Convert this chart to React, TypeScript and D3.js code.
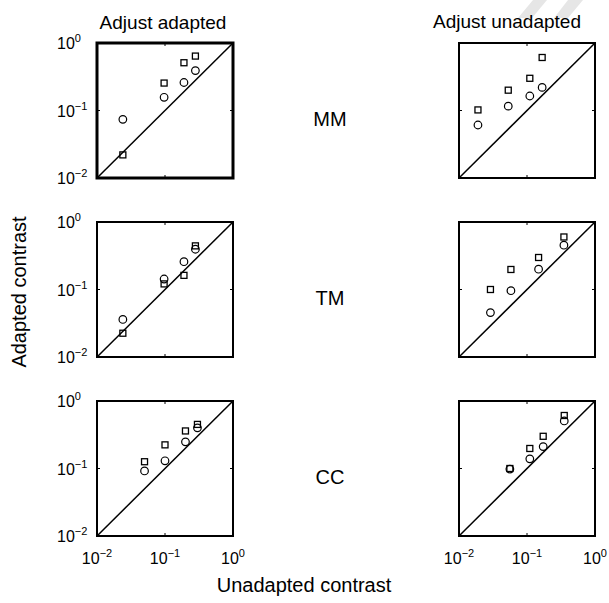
import React from 'react';
import * as d3 from 'd3';

// unadapted contrast (x) with adapted contrast for squares and circles (y)
const rowNames = ['MM', 'TM', 'CC'];
const colTitles = ['Adjust adapted', 'Adjust unadapted'];

const mmAdaptedX = [0.024, 0.097, 0.19, 0.28];
const mmAdaptedSq = [0.022, 0.255, 0.51, 0.64];
const mmAdaptedCi = [0.074, 0.157, 0.26, 0.39];

const tmAdaptedX = [0.024, 0.097, 0.19, 0.28];
const tmAdaptedSq = [0.0225, 0.121, 0.162, 0.443];
const tmAdaptedCi = [0.036, 0.143, 0.258, 0.395];

const ccAdaptedX = [0.05, 0.1, 0.2, 0.3];
const ccAdaptedSq = [0.126, 0.224, 0.36, 0.45];
const ccAdaptedCi = [0.092, 0.13, 0.248, 0.4];

const mmUnadaptedX = [0.019, 0.053, 0.11, 0.167];
const mmUnadaptedSq = [0.102, 0.2, 0.3, 0.61];
const mmUnadaptedCi = [0.061, 0.116, 0.164, 0.22];

const tmUnadaptedX = [0.029, 0.058, 0.148, 0.349];
const tmUnadaptedSq = [0.1, 0.198, 0.298, 0.6];
const tmUnadaptedCi = [0.0455, 0.096, 0.2, 0.453];

const ccUnadaptedX = [0.056, 0.11, 0.173, 0.353];
const ccUnadaptedSq = [0.1, 0.198, 0.3, 0.61];
const ccUnadaptedCi = [0.098, 0.139, 0.211, 0.506];

const tickValues = [0.01, 0.1, 1];
const tickExps = ['\u22122', '\u22121', '0'];

const panels = [
  [
    { x: mmAdaptedX, sq: mmAdaptedSq, ci: mmAdaptedCi },
    { x: mmUnadaptedX, sq: mmUnadaptedSq, ci: mmUnadaptedCi },
  ],
  [
    { x: tmAdaptedX, sq: tmAdaptedSq, ci: tmAdaptedCi },
    { x: tmUnadaptedX, sq: tmUnadaptedSq, ci: tmUnadaptedCi },
  ],
  [
    { x: ccAdaptedX, sq: ccAdaptedSq, ci: ccAdaptedCi },
    { x: ccUnadaptedX, sq: ccUnadaptedSq, ci: ccUnadaptedCi },
  ],
];

const W = 609, H = 603;
const PW = 136, PH = 135;
const colLeft = [97, 459];
const rowTop = [43, 222, 401];
const font = 'Liberation Sans, Arial, Helvetica, sans-serif';

const TickLabel = ({ x, y, exp, anchor }: any) => (
  <text x={x} y={y} fontSize={16} textAnchor={anchor} fontFamily={font}>
    10<tspan dy={-7} fontSize={11}>{exp}</tspan>
  </text>
);

const Panel = ({ left, top, d, row, col }: any) => {
  const xs = d3.scaleLog().domain([0.01, 1]).range([0, PW]);
  const ys = d3.scaleLog().domain([0.01, 1]).range([PH, 0]);
  const bold = row === 0 && col === 0;
  return (
    <g transform={`translate(${left},${top})`}>
      {tickValues.map((t, i) => (
        <g key={i} stroke="#000" strokeWidth={1}>
          <line x1={xs(t)} x2={xs(t)} y1={PH} y2={PH - 3} />
          <line x1={xs(t)} x2={xs(t)} y1={0} y2={3} />
          <line x1={0} x2={3} y1={ys(t)} y2={ys(t)} />
          <line x1={PW} x2={PW - 3} y1={ys(t)} y2={ys(t)} />
        </g>
      ))}
      <line x1={xs(0.01)} y1={ys(0.01)} x2={xs(1)} y2={ys(1)} stroke="#000" strokeWidth={1.5} />
      {d.x.map((v: number, i: number) => (
        <rect key={'s' + i} x={xs(v) - 3} y={ys(d.sq[i]) - 3} width={6} height={6}
          fill="none" stroke="#000" strokeWidth={1.3} />
      ))}
      {d.x.map((v: number, i: number) => (
        <circle key={'c' + i} cx={xs(v)} cy={ys(d.ci[i])} r={3.8}
          fill="none" stroke="#000" strokeWidth={1.2} />
      ))}
      <rect x={0} y={0} width={PW} height={PH} fill="none" stroke="#000" strokeWidth={bold ? 3 : 2} />
      {col === 0 && tickValues.map((t, i) => (
        <TickLabel key={'y' + i} x={-40} y={ys(t) + 6} exp={tickExps[i]} anchor="start" />
      ))}
      {row === 2 && tickValues.map((t, i) => (
        <TickLabel key={'x' + i} x={xs(t)} y={PH + 28} exp={tickExps[i]} anchor="middle" />
      ))}
    </g>
  );
};

export default function App() {
  return (
    <svg width={W} height={H} style={{ position: 'absolute', left: 0, top: 0, background: '#fff' }}>
      <rect width={W} height={H} fill="#fff" />
      <polygon points="533,0 547,0 532,18 518,18" fill="#e6e6e6" />
      <polygon points="568,0 583,0 568,18 554,18" fill="#e6e6e6" />
      <text x={163} y={29} fontSize={19} textAnchor="middle" fontFamily={font}>{colTitles[0]}</text>
      <text x={507} y={28} fontSize={19} textAnchor="middle" fontFamily={font}>{colTitles[1]}</text>
      {panels.map((r, ri) => r.map((d, ci) => (
        <Panel key={ri + '-' + ci} left={colLeft[ci]} top={rowTop[ri]} d={d} row={ri} col={ci} />
      )))}
      {rowNames.map((n, i) => (
        <text key={n} x={330} y={rowTop[i] + PH / 2 + 15} fontSize={20} textAnchor="middle" fontFamily={font}>{n}</text>
      ))}
      <text transform="translate(26,292) rotate(-90)" fontSize={20} textAnchor="middle" fontFamily={font}>Adapted contrast</text>
      <text x={304} y={592} fontSize={20} textAnchor="middle" fontFamily={font}>Unadapted contrast</text>
    </svg>
  );
}
